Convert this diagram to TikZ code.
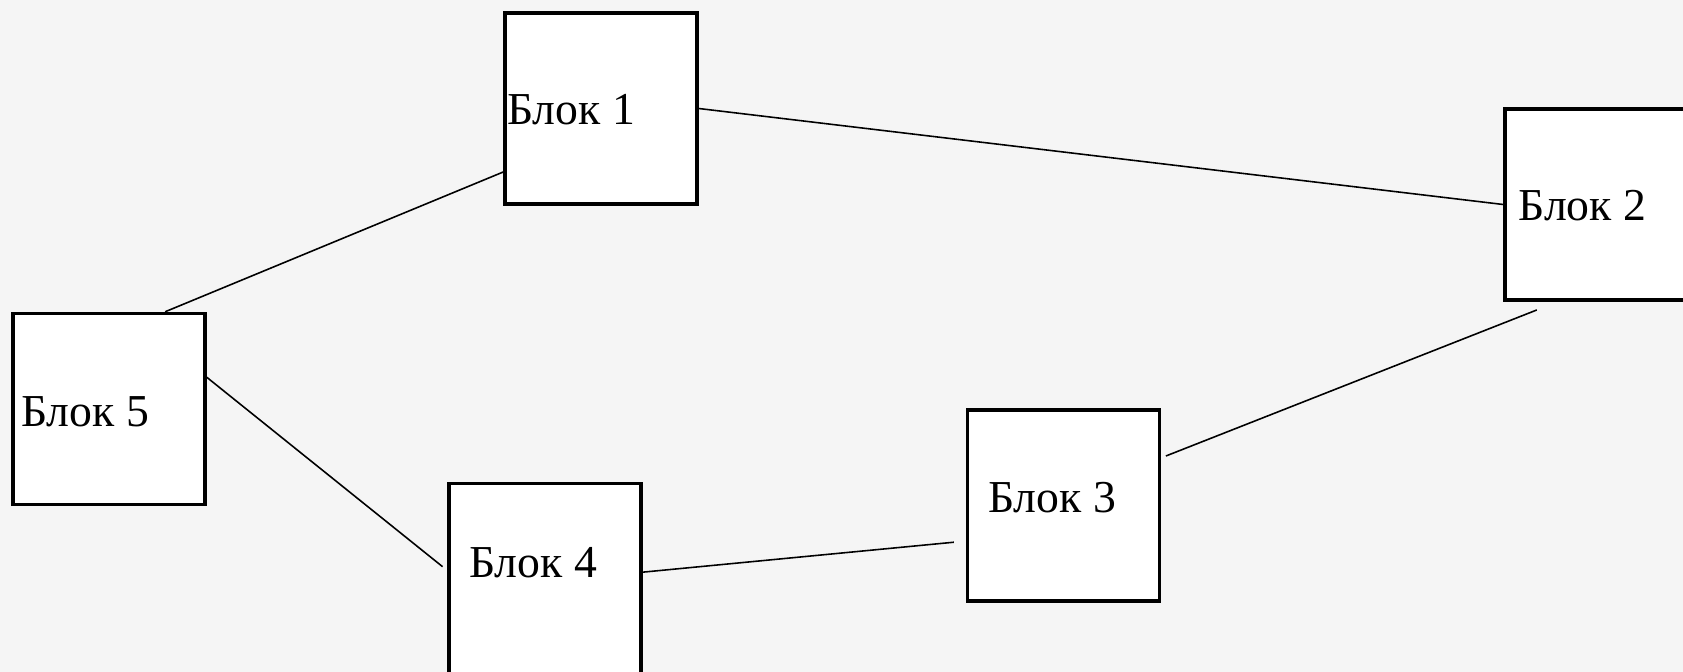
\documentclass[tikz,border=0pt]{standalone}
\usepackage{fontspec}
\setmainfont{Liberation Serif}

\begin{document}
\begin{tikzpicture}[x=0.02cm,y=-0.02cm]
    \tikzstyle{block}=[rectangle,draw,fill=white,line width=2pt,inner sep=0pt,minimum width=3.84cm,minimum height=3.82cm]
    \tikzstyle{blocktext}=[anchor=base west,inner sep=0pt,font=\fontsize{26}{30}\selectfont]
    \tikzstyle{link}=[line width=0.9pt]
    \clip (0,0) rectangle (1683,672);
    \fill[black!4] (0,0) rectangle (1683,672);
    \foreach \i/\x/\y in {1/601/108.5,2/1601/204.5,3/1063.5/505.5,4/545/579,5/109/409} {\node[block] at (\x,\y) (b\i) {};}
    \foreach \i/\x/\y in {1/507/125,2/1518/221,3/988/512,4/469/577,5/21/426} {\node[blocktext] at (\x,\y) (t\i) {Блок \i};}
    \draw[link] (b1.east) -- (b2.west);
    \draw[link] (b1.213) -- (b5.60);
    \draw[link,shorten >=0.12cm] (b5.18) -- (b4.175);
    \draw[link,shorten >=0.24cm] (b4.4) -- (b3.200);
    \draw[link,shorten <=0.1cm,shorten >=0.45cm] (b3.26) -- (b2.246);
  \end{tikzpicture}
\end{document}
